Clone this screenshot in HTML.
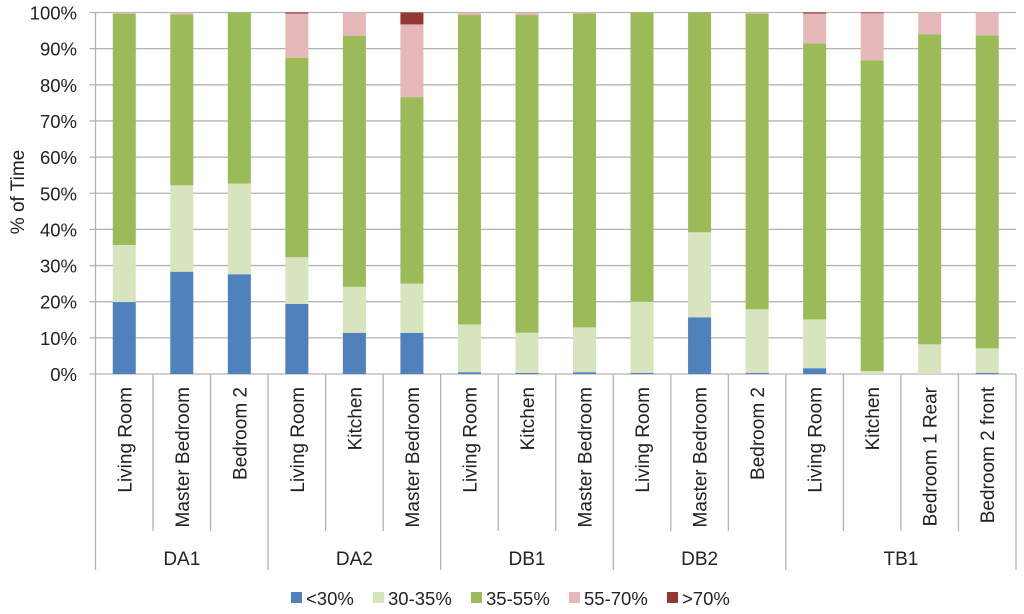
<!DOCTYPE html>
<html><head><meta charset="utf-8"><style>
body{margin:0;background:#fff;}
svg{display:block;font-family:"Liberation Sans",sans-serif;}
</style></head><body>
<svg id="c" width="1024" height="614"></svg>
<script>
const categories=["Living Room","Master Bedroom","Bedroom 2","Living Room","Kitchen","Master Bedroom","Living Room","Kitchen","Master Bedroom","Living Room","Master Bedroom","Bedroom 2","Living Room","Kitchen","Bedroom 1 Rear","Bedroom 2 front"];
const groups=["DA1","DA2","DB1","DB2","TB1"];
const groupSizes=[3,3,3,3,4];
const seriesNames=["<30%","30-35%","35-55%","55-70%",">70%"];
const s1=[19.9,28.3,27.6,19.4,11.4,11.4,0.5,0.3,0.5,0.3,15.7,0.3,1.6,0,0,0.3];
const s2=[15.8,23.9,25.1,12.9,12.7,13.6,13.2,11.1,12.4,19.7,23.5,17.6,13.5,0.8,8.2,6.8];
const s3=[64.0,47.3,47.3,55.2,69.4,51.6,85.6,87.9,86.9,80.0,60.8,81.8,76.4,86.0,85.8,86.6];
const s4=[0.3,0.5,0,12.2,6.5,20.1,0.7,0.7,0.2,0,0,0.3,8.2,13.0,6.0,6.3];
const s5=[0,0,0,0.3,0,3.3,0,0,0,0,0,0,0.3,0.2,0,0];
const yTicks=[0,10,20,30,40,50,60,70,80,90,100];
const colors=["#4f81bd","#d7e4bd","#9bbb59","#e6b9b8","#953735"];
const NS="http://www.w3.org/2000/svg";
const svg=document.getElementById('c');
const X0=95.5,X1=1016,Y0=374,Y1=12.5;
const bw=(X1-X0)/categories.length;
const y=v=>Y0-(v/100)*(Y0-Y1);
const x=i=>X0+bw*i;
function mk(t,a,txt){const e=document.createElementNS(NS,t);for(const k in a)e.setAttribute(k,a[k]);if(txt!==undefined)e.textContent=txt;svg.appendChild(e);return e;}
yTicks.forEach(t=>{
 const g=mk('line',{x1:X0-6,x2:X1,y1:y(t),y2:y(t),stroke:'#b3b3b3','stroke-width':1.3});
 
 
 const l=mk('text',{x:77,y:y(t)+7,'text-anchor':'end','font-size':18.5,fill:'#222'},t+'%');
 
 
});
const series=[s1,s2,s3,s4,s5];
categories.forEach((c,i)=>{
 let acc=0;
 series.forEach((s,k)=>{
  const v=s[i];
  if(v>0){
   const r=mk('rect',{x:x(i)+bw*0.3,width:bw*0.4,y:y(acc+v),height:y(acc)-y(acc+v),fill:colors[k]});
   
   
  }
  acc+=v;
 });
 const cx=x(i)+bw/2+7;
 const t=mk('text',{x:0,y:0,'text-anchor':'end','font-size':19,fill:'#222',transform:`translate(${cx},387) rotate(-90)`},c);
 
 
});
const ax=mk('line',{x1:X0,x2:X0,y1:Y1,y2:570,stroke:'#b3b3b3','stroke-width':1.3});


let idx=0;
groups.forEach((g,gi)=>{
 for(let j=1;j<groupSizes[gi];j++){
  const l=mk('line',{x1:x(idx+j),x2:x(idx+j),y1:Y0,y2:531,stroke:'#b3b3b3','stroke-width':1.3});
  
  
 }
 const e=idx+groupSizes[gi];
 const d=mk('line',{x1:x(e),x2:x(e),y1:Y0,y2:570,stroke:'#b3b3b3','stroke-width':1.3});
 
 
 const t=mk('text',{x:(x(idx)+x(e))/2,y:565,'text-anchor':'middle','font-size':19,fill:'#222'},g);
 
 
 idx=e;
});
const yt=mk('text',{x:0,y:0,'text-anchor':'middle','font-size':19,fill:'#222',transform:'translate(24,192) rotate(-90)'},'% of Time');


const legX=[291,373,471,569,667];
seriesNames.forEach((n,k)=>{
 const r=mk('rect',{x:legX[k],y:592,width:11,height:11,fill:colors[k]});
 
 
 const t=mk('text',{x:legX[k]+15,y:605,'font-size':18.5,fill:'#222'},n);
 
 
});
</script>
</body></html>
